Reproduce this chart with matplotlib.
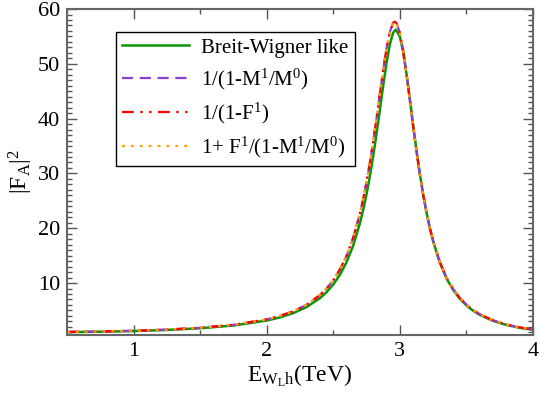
import matplotlib
matplotlib.use("Agg")
import matplotlib.pyplot as plt
from matplotlib.ticker import MultipleLocator

plt.rcParams['font.family'] = ['Liberation Serif', 'DejaVu Serif']
plt.rcParams['mathtext.fontset'] = 'custom'
plt.rcParams['mathtext.rm'] = 'Liberation Serif'
plt.rcParams['mathtext.it'] = 'Liberation Serif:italic'

# Energy grid (TeV)
E_bw = [0.5, 0.75, 1.0, 1.25, 1.5, 1.75, 2.0, 2.1, 2.2, 2.3, 2.4, 2.45, 2.5, 2.55, 2.6,
        2.65, 2.7, 2.725, 2.75, 2.775, 2.8, 2.825, 2.85, 2.875, 2.9, 2.925, 2.95, 2.97,
        3.0, 3.025, 3.05, 3.075, 3.1, 3.125, 3.15, 3.175, 3.2, 3.225, 3.25, 3.3, 3.35,
        3.4, 3.45, 3.5, 3.55, 3.6, 3.7, 3.8, 3.9, 4.0]
breit_wigner = [1.04, 1.12, 1.24, 1.44, 1.75, 2.25, 3.16, 3.73, 4.52, 5.62, 7.24, 8.34,
                9.74, 11.51, 13.82, 16.85, 20.88, 23.37, 26.23, 29.49, 33.18, 37.24, 41.59,
                46.00, 50.14, 53.54, 55.70, 56.26, 54.99, 52.17, 48.18, 43.57, 38.79,
                34.20, 29.97, 26.20, 22.91, 20.06, 17.62, 13.74, 10.88, 8.76, 7.15, 5.92,
                4.96, 4.20, 3.10, 2.36, 1.84, 1.47]

E_u = [0.5, 0.75, 1.0, 1.25, 1.5, 1.75, 2.0, 2.1, 2.2, 2.3, 2.4, 2.45, 2.5, 2.55, 2.6,
       2.65, 2.7, 2.725, 2.75, 2.775, 2.8, 2.825, 2.85, 2.875, 2.9, 2.925, 2.95, 2.962,
       2.975, 3.0, 3.025, 3.05, 3.075, 3.1, 3.125, 3.15, 3.175, 3.2, 3.225, 3.25, 3.3,
       3.35, 3.4, 3.45, 3.5, 3.55, 3.6, 3.7, 3.8, 3.9, 4.0]
inv_m = [1.08, 1.17, 1.30, 1.51, 1.84, 2.38, 3.36, 4.00, 4.83, 6.04, 7.78, 9.00, 10.50,
         12.45, 14.95, 18.25, 22.63, 25.31, 28.39, 31.87, 35.76, 40.00, 44.44, 48.83,
         52.79, 55.83, 57.49, 57.70, 57.45, 55.69, 52.44, 48.20, 43.45, 38.65, 34.07,
         29.90, 26.19, 22.94, 20.14, 17.73, 13.89, 11.04, 8.92, 7.31, 6.07, 5.10, 4.32,
         3.20, 2.44, 1.91, 1.53]
inv_f = [1.08, 1.17, 1.30, 1.51, 1.84, 2.38, 3.36, 4.01, 4.84, 6.06, 7.80, 9.02, 10.52,
         12.48, 14.98, 18.30, 22.70, 25.40, 28.50, 31.98, 35.88, 40.10, 44.52, 48.90,
         52.85, 55.87, 57.50, 57.70, 57.42, 55.62, 52.35, 48.10, 43.36, 38.58, 34.01,
         29.86, 26.16, 22.92, 20.12, 17.72, 13.88, 11.03, 8.91, 7.30, 6.06, 5.09, 4.32,
         3.20, 2.44, 1.91, 1.53]
one_plus = [1.08, 1.17, 1.30, 1.51, 1.84, 2.38, 3.36, 4.00, 4.83, 6.05, 7.79, 9.01, 10.51,
            12.46, 14.96, 18.27, 22.66, 25.35, 28.44, 31.92, 35.82, 40.05, 44.48, 48.86,
            52.82, 55.85, 57.50, 57.70, 57.44, 55.66, 52.40, 48.15, 43.41, 38.62, 34.04,
            29.88, 26.18, 22.93, 20.13, 17.73, 13.89, 11.04, 8.92, 7.31, 6.07, 5.10, 4.32,
            3.20, 2.44, 1.91, 1.53]

labels = ["Breit-Wigner like",
          r"1/(1-M$^{1}$/M$^{0}$)",
          r"1/(1-F$^{1}$)",
          r"1+ F$^{1}$/(1-M$^{1}$/M$^{0}$)"]

fig = plt.figure(figsize=(5.4, 3.93), dpi=100)
ax = fig.add_axes([0.124, 0.148, 0.863, 0.829])

lw = 1.6
ax.plot(E_bw, breit_wigner, color='#0a960a', lw=lw + 0.2, label=labels[0])
ax.plot(E_u, inv_m, color='#8a3fd0', lw=lw, dashes=(5, 3), label=labels[1])
ax.plot(E_u, inv_f, color='#ff0000', lw=lw,
        dashes=(5.3, 2.9, 1.1, 2.9, 1.1, 2.9), label=labels[2])
ax.plot(E_u, one_plus, color='#ffa500', lw=lw, dashes=(1.3, 2.7), label=labels[3])

ax.set_xlim(0.5, 4.0)
ax.set_ylim(0.55, 60)
ax.xaxis.set_major_locator(MultipleLocator(1))
ax.xaxis.set_minor_locator(MultipleLocator(0.5))
ax.yaxis.set_minor_locator(MultipleLocator(1))
ax.set_yticks([10, 20, 30, 40, 50, 60])
ax.tick_params(which='both', direction='in', top=True, right=True, color='#555555',
               labelsize=16, width=1.0)
ax.tick_params(which='major', length=7, pad=5)
ax.tick_params(which='minor', length=3.5)
for s in ax.spines.values():
    s.set_color('#666666')
    s.set_linewidth(1.5)

ax.set_xlabel(r"E$_{\mathrm{W_L h}}$(TeV)", fontsize=17, labelpad=1)
ax.set_ylabel(r"|F$_{\mathrm{A}}$|$^{2}$", fontsize=17, labelpad=2)

leg = ax.legend(loc='upper left', bbox_to_anchor=(0.105, 0.93), fontsize=15,
                frameon=True, fancybox=False, edgecolor='black', framealpha=1,
                handlelength=3.2, handletextpad=0.6, labelspacing=0.42,
                borderpad=0.3, borderaxespad=0)
leg.get_frame().set_linewidth(1.0)

fig.savefig("out.png", dpi=100)
